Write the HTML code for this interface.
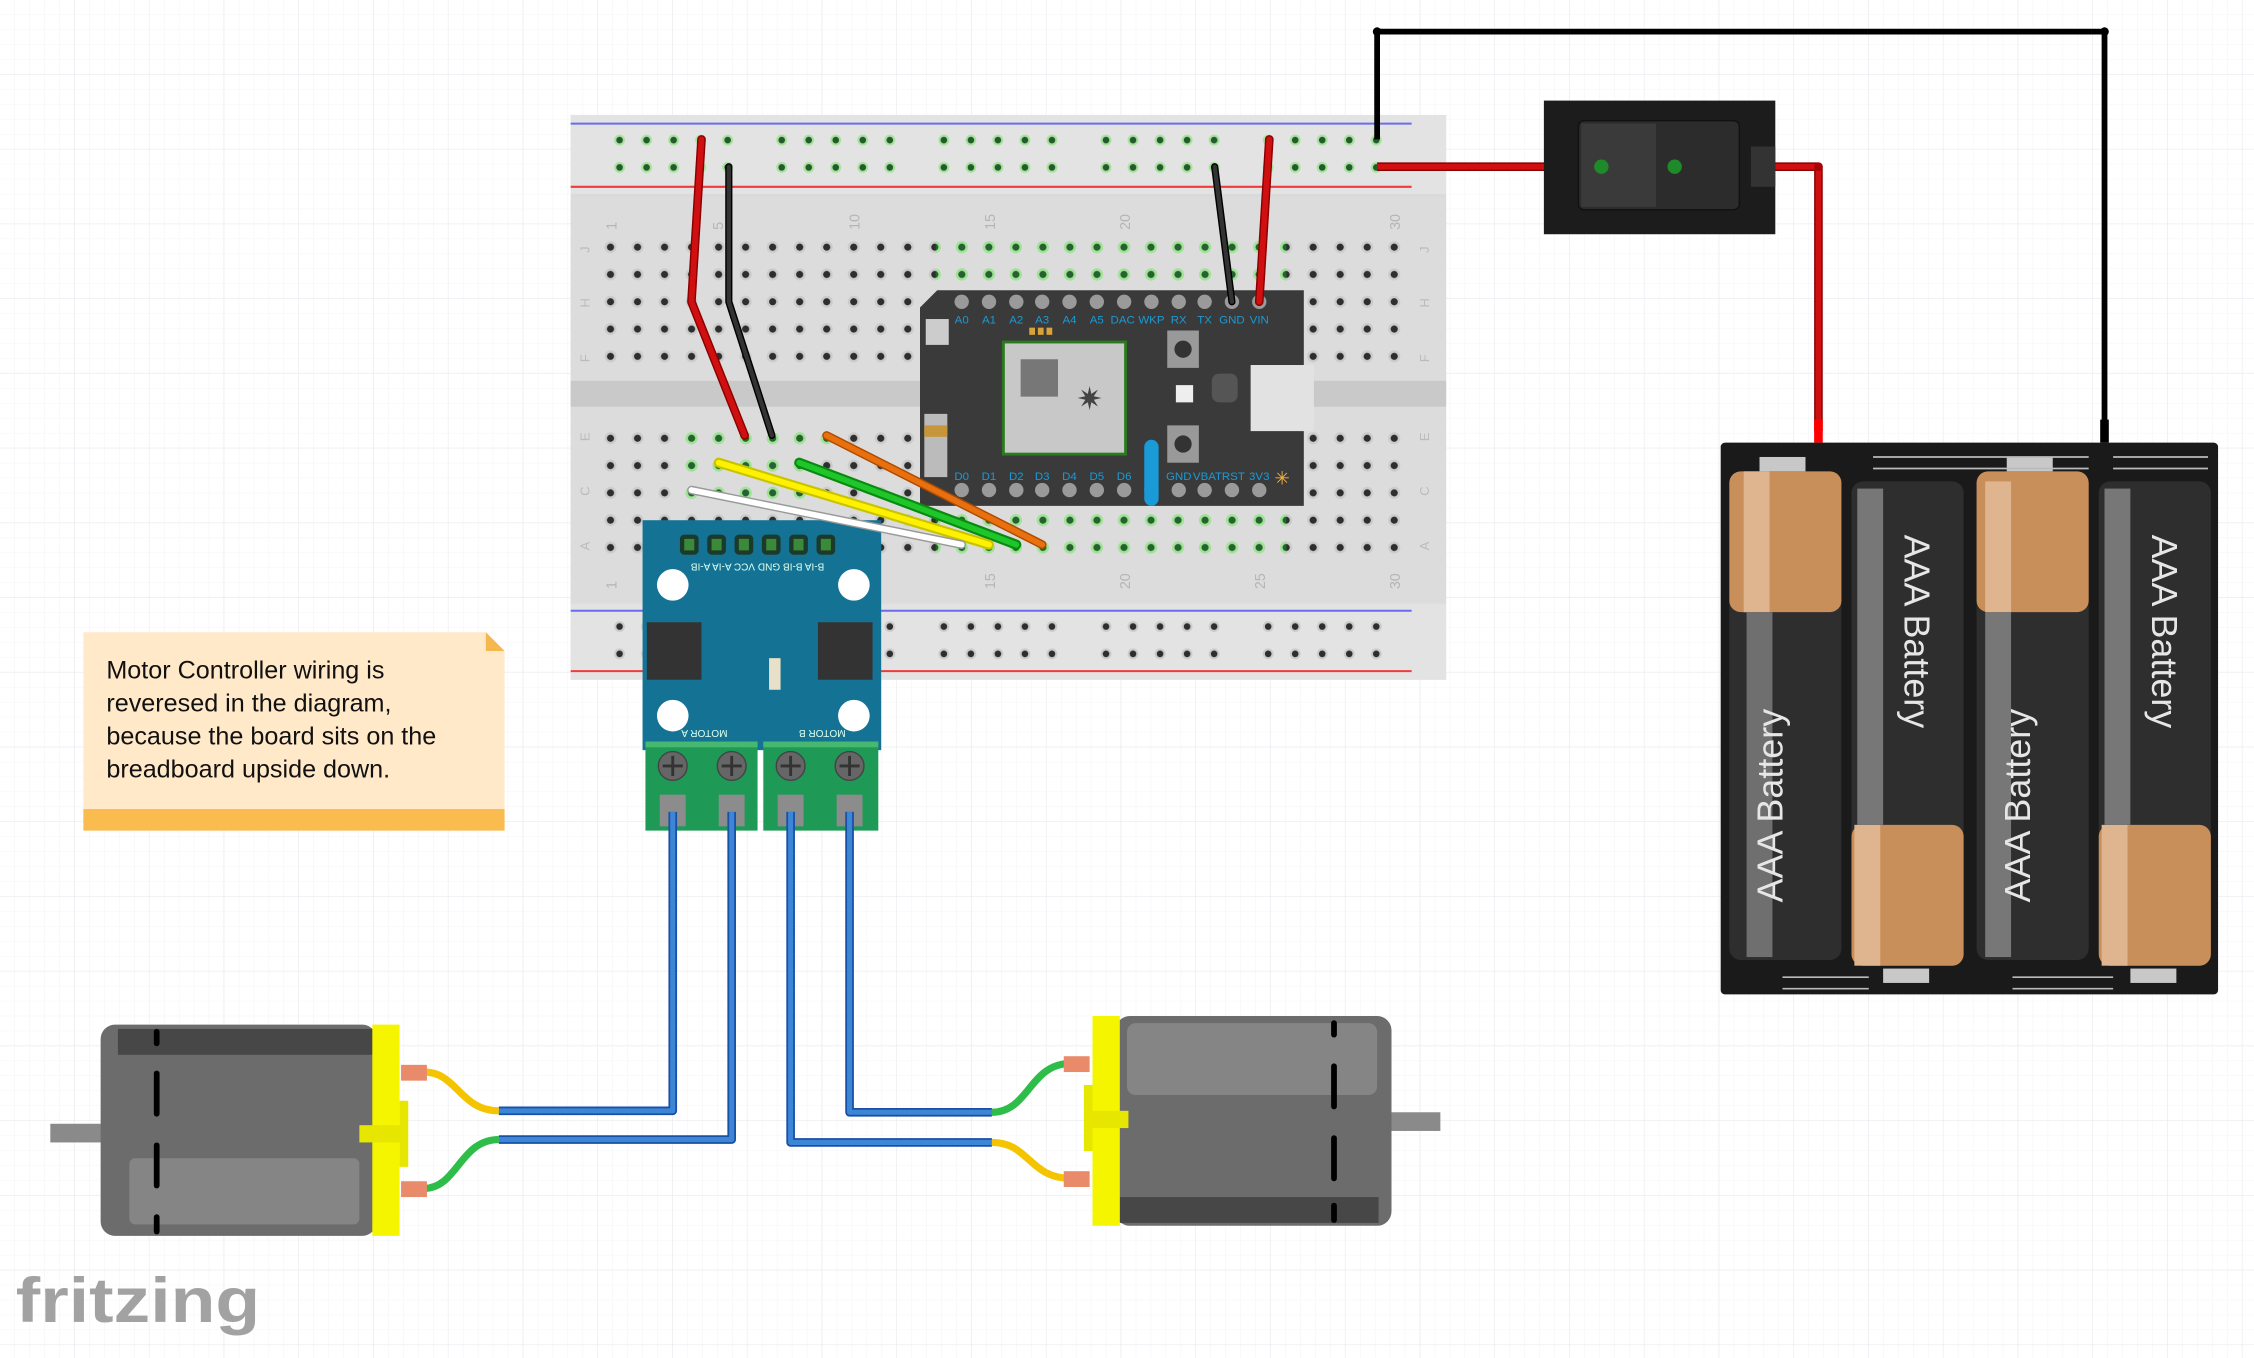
<!DOCTYPE html>
<html><head><meta charset="utf-8"><style>
html,body{margin:0;padding:0;background:#fff;}
svg{display:block;}
text{font-family:"Liberation Sans",sans-serif;}
</style></head><body>
<svg width="2254" height="1358" viewBox="0 0 1568 945" preserveAspectRatio="none" xmlns="http://www.w3.org/2000/svg">
<defs>
<pattern id="g1" width="10.4" height="10.4" patternUnits="userSpaceOnUse"><path d="M10.4 0V10.4H0" fill="none" stroke="#f1f2f6" stroke-width="0.6"/></pattern>
<pattern id="g2" width="52" height="52" patternUnits="userSpaceOnUse"><path d="M52 0V52H0" fill="none" stroke="#e9ebf0" stroke-width="0.9"/></pattern>
<pattern id="hole" x="415.3" y="162.5" width="18.8" height="19" patternUnits="userSpaceOnUse"><circle cx="9.4" cy="9.5" r="4.2" fill="#cbcbcb"/><circle cx="9.4" cy="9.5" r="2.5" fill="#2e2e2e"/></pattern>
<pattern id="rh" x="421.6" y="88" width="18.8" height="19" patternUnits="userSpaceOnUse"><circle cx="9.4" cy="9.5" r="3.8" fill="#a6e39b"/><circle cx="9.4" cy="9.5" r="2.3" fill="#255a2e"/></pattern>
<pattern id="rhb" x="421.6" y="426.5" width="18.8" height="19" patternUnits="userSpaceOnUse"><circle cx="9.4" cy="9.5" r="3.8" fill="#cbcbcb"/><circle cx="9.4" cy="9.5" r="2.3" fill="#2e2e2e"/></pattern>
<pattern id="gh" x="415.3" y="162.5" width="18.8" height="19" patternUnits="userSpaceOnUse"><circle cx="9.4" cy="9.5" r="4.2" fill="#9de494"/><circle cx="9.4" cy="9.5" r="2.5" fill="#27612f"/></pattern>
</defs>
<rect width="1568" height="945" fill="#fff"/>
<rect width="1568" height="945" fill="url(#g1)"/>
<rect width="1568" height="945" fill="url(#g2)"/>

<!-- breadboard -->
<rect x="397" y="80" width="609" height="393" fill="#dadada"/>
<rect x="397" y="80" width="609" height="55" fill="#e3e3e3"/>
<rect x="397" y="420" width="609" height="53" fill="#e3e3e3"/>
<rect x="397" y="137" width="609" height="283" fill="#dcdcdc"/>
<rect x="397" y="265" width="609" height="18" fill="#c9c9c9"/>
<line x1="397" y1="86" x2="982" y2="86" stroke="#6b6bf0" stroke-width="1.4"/>
<line x1="397" y1="130" x2="982" y2="130" stroke="#f03b3b" stroke-width="1.4"/>
<line x1="397" y1="425" x2="982" y2="425" stroke="#6b6bf0" stroke-width="1.4"/>
<line x1="397" y1="467" x2="982" y2="467" stroke="#f03b3b" stroke-width="1.4"/>
<rect x="415.3" y="162.5" width="564" height="95" fill="url(#hole)"/>
<rect x="415.3" y="293.5" width="564" height="95" fill="url(#hole)"/>
<rect x="650.9" y="162.5" width="244" height="38" fill="url(#gh)"/>
<rect x="471.7" y="293.5" width="113" height="19" fill="url(#gh)"/>
<rect x="471.7" y="312.5" width="94" height="38" fill="url(#gh)"/>
<rect x="650.9" y="350.5" width="244" height="38" fill="url(#gh)"/>
<!-- rail holes: 5 groups -->
<g>
<rect x="421.6" y="88" width="94" height="38" fill="url(#rh)"/>
<rect x="534.4" y="88" width="94" height="38" fill="url(#rh)"/>
<rect x="647.2" y="88" width="94" height="38" fill="url(#rh)"/>
<rect x="760" y="88" width="94" height="38" fill="url(#rh)"/>
<rect x="872.8" y="88" width="94" height="38" fill="url(#rh)"/>
<rect x="421.6" y="426.5" width="94" height="38" fill="url(#rhb)"/>
<rect x="534.4" y="426.5" width="94" height="38" fill="url(#rhb)"/>
<rect x="647.2" y="426.5" width="94" height="38" fill="url(#rhb)"/>
<rect x="760" y="426.5" width="94" height="38" fill="url(#rhb)"/>
<rect x="872.8" y="426.5" width="94" height="38" fill="url(#rhb)"/>
</g>
<g fill="#b5b5b5" font-size="10">
<text transform="translate(429,160) rotate(-90)">1</text>
<text transform="translate(503,160) rotate(-90)">5</text>
<text transform="translate(598,160) rotate(-90)">10</text>
<text transform="translate(692,160) rotate(-90)">15</text>
<text transform="translate(786,160) rotate(-90)">20</text>
<text transform="translate(974,160) rotate(-90)">30</text>
<text transform="translate(692,410) rotate(-90)">15</text>
<text transform="translate(786,410) rotate(-90)">20</text>
<text transform="translate(880,410) rotate(-90)">25</text>
<text transform="translate(974,410) rotate(-90)">30</text>
<text transform="translate(429,410) rotate(-90)">1</text>
</g>
<g fill="#bbbbbb" font-size="9">
<text transform="translate(410,176) rotate(-90)">J</text><text transform="translate(410,214) rotate(-90)">H</text><text transform="translate(410,252) rotate(-90)">F</text>
<text transform="translate(410,307) rotate(-90)">E</text><text transform="translate(410,345) rotate(-90)">C</text><text transform="translate(410,383) rotate(-90)">A</text>
<text transform="translate(994,176) rotate(-90)">J</text><text transform="translate(994,214) rotate(-90)">H</text><text transform="translate(994,252) rotate(-90)">F</text>
<text transform="translate(994,307) rotate(-90)">E</text><text transform="translate(994,345) rotate(-90)">C</text><text transform="translate(994,383) rotate(-90)">A</text>
</g>

<!-- photon -->
<path d="M652 202H907V352H640V214Z" fill="#3a3a3a"/>
<g fill="#9a9a9a">
<circle cx="669" cy="210" r="5"/><circle cx="688" cy="210" r="5"/><circle cx="707" cy="210" r="5"/><circle cx="725" cy="210" r="5"/><circle cx="744" cy="210" r="5"/><circle cx="763" cy="210" r="5"/><circle cx="782" cy="210" r="5"/><circle cx="801" cy="210" r="5"/><circle cx="820" cy="210" r="5"/><circle cx="838" cy="210" r="5"/><circle cx="857" cy="210" r="5"/><circle cx="876" cy="210" r="5"/>
<circle cx="669" cy="341" r="5"/><circle cx="688" cy="341" r="5"/><circle cx="707" cy="341" r="5"/><circle cx="725" cy="341" r="5"/><circle cx="744" cy="341" r="5"/><circle cx="763" cy="341" r="5"/><circle cx="782" cy="341" r="5"/><circle cx="801" cy="341" r="5"/><circle cx="820" cy="341" r="5"/><circle cx="838" cy="341" r="5"/><circle cx="857" cy="341" r="5"/><circle cx="876" cy="341" r="5"/>
</g>
<g fill="#1a9ad6" font-size="8" text-anchor="middle">
<text x="669" y="225">A0</text><text x="688" y="225">A1</text><text x="707" y="225">A2</text><text x="725" y="225">A3</text><text x="744" y="225">A4</text><text x="763" y="225">A5</text><text x="781" y="225">DAC</text><text x="801" y="225">WKP</text><text x="820" y="225">RX</text><text x="838" y="225">TX</text><text x="857" y="225">GND</text><text x="876" y="225">VIN</text>
<text x="669" y="334">D0</text><text x="688" y="334">D1</text><text x="707" y="334">D2</text><text x="725" y="334">D3</text><text x="744" y="334">D4</text><text x="763" y="334">D5</text><text x="782" y="334">D6</text><text x="801" y="334">D7</text><text x="820" y="334">GND</text><text x="840" y="334">VBAT</text><text x="858" y="334">RST</text><text x="876" y="334">3V3</text>
</g>
<rect x="796" y="306" width="10" height="46" rx="5" fill="#1a9ad6"/>
<rect x="698" y="238" width="85" height="78" fill="#c8c8c8" stroke="#2c7a1f" stroke-width="2"/>
<rect x="710" y="250" width="26" height="26" fill="#777"/>
<text x="758" y="285" font-size="22" fill="#444" text-anchor="middle">✷</text>
<rect x="643" y="288" width="16" height="44" fill="#bbb"/><rect x="643" y="296" width="16" height="8" fill="#c8963a"/>
<rect x="644" y="222" width="16" height="18" fill="#ccc"/>
<rect x="812" y="230" width="22" height="26" fill="#999"/><circle cx="823" cy="243" r="6" fill="#333"/>
<rect x="812" y="296" width="22" height="26" fill="#999"/><circle cx="823" cy="309" r="6" fill="#333"/>
<rect x="818" y="268" width="12" height="12" fill="#eee"/>
<rect x="843" y="260" width="18" height="20" rx="5" fill="#555"/>
<rect x="870" y="254" width="44" height="46" fill="#e2e2e2"/>
<rect x="716" y="228" width="4" height="5" fill="#d9a33a"/><rect x="722" y="228" width="4" height="5" fill="#d9a33a"/><rect x="728" y="228" width="4" height="5" fill="#d9a33a"/>
<text x="892" y="337" font-size="13" fill="#f5b03c" text-anchor="middle">✳</text>

<!-- breadboard wires -->
<g fill="none" stroke-linecap="round" stroke-linejoin="round">
<polyline points="488,97 481,210 518,303" stroke="#8a0000" stroke-width="6"/>
<polyline points="488,97 481,210 518,303" stroke="#d01010" stroke-width="4"/>
<polyline points="507,116 507,210 537,303" stroke="#000" stroke-width="5"/>
<polyline points="507,116 507,210 537,303" stroke="#333" stroke-width="3"/>
<line x1="845" y1="116" x2="857" y2="210" stroke="#000" stroke-width="5"/>
<line x1="845" y1="116" x2="857" y2="210" stroke="#333" stroke-width="3"/>
<line x1="883" y1="97" x2="876" y2="210" stroke="#8a0000" stroke-width="6"/>
<line x1="883" y1="97" x2="876" y2="210" stroke="#d01010" stroke-width="4"/>
</g>

<!-- motor driver -->
<rect x="447" y="362" width="166" height="160" fill="#147395"/>
<g fill="#1c3a2a"><rect x="473" y="372" width="13" height="14" rx="3"/><rect x="492" y="372" width="13" height="14" rx="3"/><rect x="511" y="372" width="13" height="14" rx="3"/><rect x="530" y="372" width="13" height="14" rx="3"/><rect x="549" y="372" width="13" height="14" rx="3"/><rect x="568" y="372" width="13" height="14" rx="3"/></g>
<g fill="#3a8a3a"><rect x="476" y="375" width="7" height="8"/><rect x="495" y="375" width="7" height="8"/><rect x="514" y="375" width="7" height="8"/><rect x="533" y="375" width="7" height="8"/><rect x="552" y="375" width="7" height="8"/><rect x="571" y="375" width="7" height="8"/></g>
<text x="527" y="398" font-size="7" fill="#dfe" text-anchor="middle" transform="rotate(180 527 395)">B-IA B-IB GND VCC A-IA A-IB</text>
<ellipse cx="468" cy="407" rx="11" ry="11" fill="#fff"/><ellipse cx="594" cy="407" rx="11" ry="11" fill="#fff"/>
<ellipse cx="468" cy="498" rx="11" ry="11" fill="#fff"/><ellipse cx="594" cy="498" rx="11" ry="11" fill="#fff"/>
<rect x="450" y="433" width="38" height="40" fill="#333"/><rect x="569" y="433" width="38" height="40" fill="#333"/>
<rect x="535" y="458" width="8" height="22" fill="#e8e0c8"/>
<text x="490" y="514" font-size="7" fill="#dfe" text-anchor="middle" transform="rotate(180 490 511)">MOTOR A</text>
<text x="572" y="514" font-size="7" fill="#dfe" text-anchor="middle" transform="rotate(180 572 511)">MOTOR B</text>
<rect x="449" y="516" width="78" height="62" fill="#1f9a56"/><rect x="531" y="516" width="80" height="62" fill="#1f9a56"/>
<rect x="449" y="516" width="78" height="4" fill="#47b870"/><rect x="531" y="516" width="80" height="4" fill="#47b870"/>
<g fill="#666" stroke="#444"><circle cx="468" cy="533" r="10"/><circle cx="509" cy="533" r="10"/><circle cx="550" cy="533" r="10"/><circle cx="591" cy="533" r="10"/></g>
<g stroke="#333" stroke-width="2"><path d="M461 533h14M468 526v14M502 533h14M509 526v14M543 533h14M550 526v14M584 533h14M591 526v14"/></g>
<g fill="#8c8c8c"><rect x="459" y="553" width="18" height="22"/><rect x="500" y="553" width="18" height="22"/><rect x="541" y="553" width="18" height="22"/><rect x="582" y="553" width="18" height="22"/></g>

<!-- signal wires -->
<g fill="none" stroke-linecap="round">
<line x1="575" y1="303" x2="725" y2="379" stroke="#b04a00" stroke-width="6"/><line x1="575" y1="303" x2="725" y2="379" stroke="#e8700e" stroke-width="4"/>
<line x1="556" y1="322" x2="707" y2="379" stroke="#0a8a10" stroke-width="7"/><line x1="556" y1="322" x2="707" y2="379" stroke="#1ec62a" stroke-width="4"/>
<line x1="500" y1="322" x2="688" y2="379" stroke="#c9c300" stroke-width="7"/><line x1="500" y1="322" x2="688" y2="379" stroke="#fff200" stroke-width="4"/>
<line x1="481" y1="341" x2="669" y2="379" stroke="#999" stroke-width="6"/><line x1="481" y1="341" x2="669" y2="379" stroke="#fff" stroke-width="4"/>
</g>

<!-- power wires -->
<g fill="none" stroke-linejoin="round">
<polyline points="958,97 958,22 1464,22 1464,300" stroke="#000" stroke-width="4"/>
<polyline points="958,116 1114,116" stroke="#8a0000" stroke-width="6"/><polyline points="958,116 1114,116" stroke="#d01010" stroke-width="4"/>
<polyline points="1165,116 1265,116 1265,300" stroke="#8a0000" stroke-width="6"/><polyline points="1165,116 1265,116 1265,300" stroke="#d01010" stroke-width="4"/>
</g>
<g fill="#000"><circle cx="958" cy="22" r="3"/><circle cx="1464" cy="22" r="3"/><circle cx="1265" cy="116" r="3" fill="#a00"/></g>
<rect x="1262" y="292" width="6" height="16" fill="#f00"/><rect x="1461" y="292" width="6" height="16" fill="#000"/>

<!-- switch -->
<rect x="1074" y="70" width="161" height="93" fill="#1c1c1c"/>
<rect x="1098" y="84" width="112" height="62" rx="4" fill="#2c2c2c" stroke="#111"/>
<rect x="1100" y="86" width="52" height="58" fill="#3a3a3a"/>
<rect x="1218" y="102" width="17" height="28" fill="#333"/>
<circle cx="1114" cy="116" r="5" fill="#1e8a2a"/><circle cx="1165" cy="116" r="5" fill="#1e8a2a"/>

<!-- battery pack -->
<rect x="1197" y="308" width="346" height="384" rx="3" fill="#1a1a1a"/>
<g>
<rect x="1203" y="328" width="78" height="340" rx="8" fill="#2e2e2e"/><rect x="1203" y="328" width="78" height="98" rx="8" fill="#c98f5a"/><rect x="1213" y="328" width="18" height="98" fill="#deb58e"/>
<rect x="1288" y="335" width="78" height="337" rx="8" fill="#2e2e2e"/><rect x="1288" y="574" width="78" height="98" rx="8" fill="#c98f5a"/><rect x="1290" y="574" width="18" height="98" fill="#deb58e"/><rect x="1292" y="340" width="18" height="234" fill="#777"/>
<rect x="1375" y="328" width="78" height="340" rx="8" fill="#2e2e2e"/><rect x="1375" y="328" width="78" height="98" rx="8" fill="#c98f5a"/><rect x="1381" y="335" width="18" height="91" fill="#deb58e"/><rect x="1381" y="426" width="18" height="240" fill="#777"/>
<rect x="1460" y="335" width="78" height="337" rx="8" fill="#2e2e2e"/><rect x="1460" y="574" width="78" height="98" rx="8" fill="#c98f5a"/><rect x="1462" y="574" width="18" height="98" fill="#deb58e"/><rect x="1464" y="340" width="18" height="234" fill="#777"/>
</g>
<rect x="1215" y="426" width="18" height="240" fill="#6f6f6f"/>
<g fill="#e6e6e6" font-size="25">
<text transform="translate(1240,628) rotate(-90)">AAA Battery</text>
<text transform="translate(1325,372) rotate(90)">AAA Battery</text>
<text transform="translate(1412,628) rotate(-90)">AAA Battery</text>
<text transform="translate(1497,372) rotate(90)">AAA Battery</text>
</g>
<g fill="#c8c8c8"><rect x="1224" y="318" width="32" height="10"/><rect x="1396" y="318" width="32" height="10"/><rect x="1310" y="674" width="32" height="10"/><rect x="1482" y="674" width="32" height="10"/></g>
<g fill="none" stroke="#bbb" stroke-width="1.2"><path d="M1303 318h150M1303 326h150"/><path d="M1470 318h66M1470 326h66"/><path d="M1240 680h60M1240 688h60M1400 680h70M1400 688h70"/></g>

<!-- note -->
<path d="M58 440H338L351 453V578H58Z" fill="#ffe9c9"/>
<path d="M338 440L351 453H338Z" fill="#f6b74c"/>
<rect x="58" y="563" width="293" height="15" fill="#fbbc4f"/>
<g font-size="17.5" fill="#111">
<text x="74" y="472">Motor Controller wiring is</text>
<text x="74" y="495">reveresed in the diagram,</text>
<text x="74" y="518">because the board sits on the</text>
<text x="74" y="541">breadboard upside down.</text>
</g>

<!-- motor wires -->
<g fill="none" stroke-linejoin="round">
<polyline points="468,565 468,773 347,773" stroke="#1a4fa8" stroke-width="6"/><polyline points="468,565 468,773 347,773" stroke="#3d86d6" stroke-width="3.5"/>
<polyline points="509,565 509,793 347,793" stroke="#1a4fa8" stroke-width="6"/><polyline points="509,565 509,793 347,793" stroke="#3d86d6" stroke-width="3.5"/>
<polyline points="550,565 550,795 690,795" stroke="#1a4fa8" stroke-width="6"/><polyline points="550,565 550,795 690,795" stroke="#3d86d6" stroke-width="3.5"/>
<polyline points="591,565 591,774 690,774" stroke="#1a4fa8" stroke-width="6"/><polyline points="591,565 591,774 690,774" stroke="#3d86d6" stroke-width="3.5"/>
<path d="M347 773C320 773 318 746 295 746" stroke="#f5c400" stroke-width="5"/>
<path d="M347 793C320 793 318 827 295 827" stroke="#2fbd4a" stroke-width="5"/>
<path d="M690 774C716 774 716 740 745 740" stroke="#2fbd4a" stroke-width="5"/>
<path d="M690 795C716 795 716 820 745 820" stroke="#f5c400" stroke-width="5"/>
</g>

<!-- left motor -->
<rect x="35" y="782" width="37" height="13" fill="#8a8a8a"/>
<rect x="70" y="713" width="192" height="147" rx="10" fill="#6c6c6c"/>
<rect x="82" y="716" width="178" height="18" fill="#474747"/>
<rect x="90" y="806" width="160" height="46" rx="4" fill="#858585"/>
<g fill="#000"><rect x="107" y="716" width="4" height="12" rx="2"/><rect x="107" y="745" width="4" height="32" rx="2"/><rect x="107" y="795" width="4" height="32" rx="2"/><rect x="107" y="845" width="4" height="14" rx="2"/></g>
<rect x="259" y="713" width="19" height="147" fill="#f5f500"/>
<rect x="250" y="783" width="30" height="12" fill="#e6e600"/><rect x="278" y="766" width="6" height="46" fill="#e6e600"/>
<rect x="279" y="741" width="18" height="11" fill="#e98b6a"/><rect x="279" y="822" width="18" height="11" fill="#e98b6a"/>

<!-- right motor -->
<rect x="965" y="774" width="37" height="13" fill="#8a8a8a"/>
<rect x="776" y="707" width="192" height="146" rx="10" fill="#6c6c6c"/>
<rect x="784" y="712" width="174" height="50" rx="6" fill="#858585"/>
<rect x="779" y="833" width="180" height="18" fill="#474747"/>
<g fill="#000"><rect x="926" y="710" width="4" height="12" rx="2"/><rect x="926" y="740" width="4" height="32" rx="2"/><rect x="926" y="790" width="4" height="32" rx="2"/><rect x="926" y="837" width="4" height="14" rx="2"/></g>
<rect x="760" y="707" width="19" height="146" fill="#f5f500"/>
<rect x="755" y="773" width="30" height="12" fill="#e6e600"/><rect x="754" y="755" width="6" height="46" fill="#e6e600"/>
<rect x="740" y="735" width="18" height="11" fill="#e98b6a"/><rect x="740" y="815" width="18" height="11" fill="#e98b6a"/>

<!-- logo -->
<text x="11" y="920" font-family="'DejaVu Sans','Liberation Sans',sans-serif" font-weight="bold" font-size="44" fill="#a2a2a2" textLength="170" lengthAdjust="spacingAndGlyphs">fritzing</text>
</svg>
</body></html>
